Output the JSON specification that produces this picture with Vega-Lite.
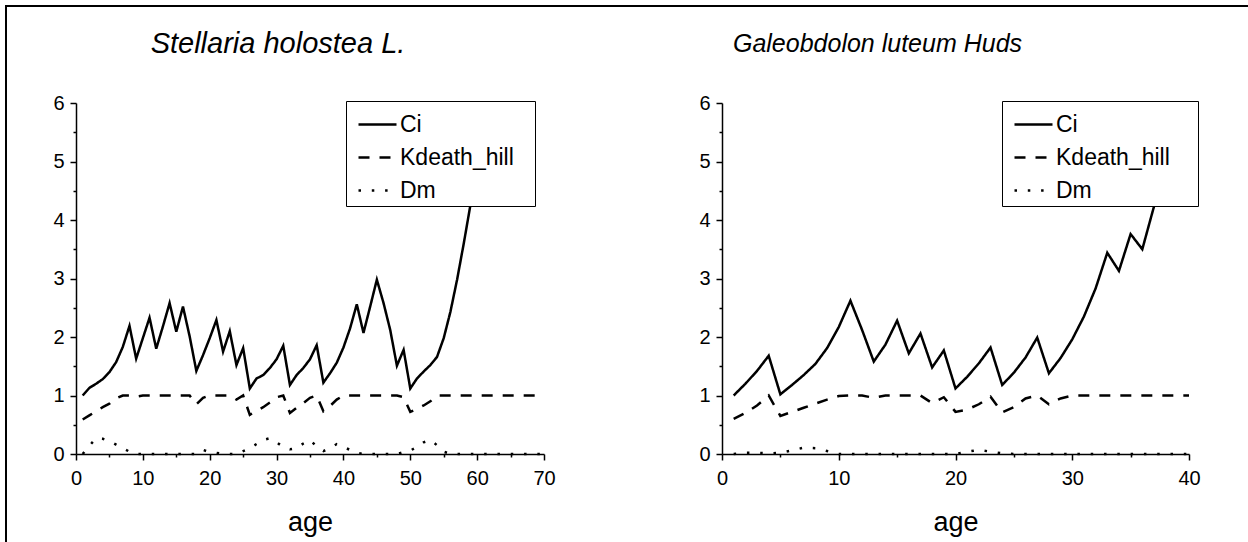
{
"$schema": "https://vega.github.io/schema/vega-lite/v6.json",
"width": 1245, "height": 539,
"autosize": "none",
"padding": {"left": 6, "top": 6, "right": -3, "bottom": -3},
"background": "white",
"config": {
  "view": {"stroke": "#000", "strokeWidth": 2, "fill": "white"},
  "font": "Liberation Sans",
  "axis": {"domainColor": "#000", "domainWidth": 1.5, "tickColor": "#000", "tickWidth": 1.5, "labelColor": "#000", "labelFontSize": 20, "labelFont": "Liberation Sans", "titleFont": "Liberation Sans", "titleColor": "#000", "titleFontWeight": "normal", "grid": false, "labelOverlap": false, "labelFlush": false},
  "legend": {"orient": "none", "strokeColor": "#000", "fillColor": "#fff", "padding": 3, "symbolType": "stroke", "symbolSize": 1444, "symbolStrokeWidth": 2.5, "symbolStrokeColor": "#000", "symbolOffset": 8, "labelFontSize": 23, "labelFont": "Liberation Sans", "labelColor": "#000", "labelOffset": 2, "rowPadding": -9, "titleOrient": "right", "titleFontSize": 1, "titleColor": "#fff", "titleOpacity": 0}
},
"datasets": {
"left": [
{"age":1,"series":"Ci","value":1.0},{"age":2,"series":"Ci","value":1.13},{"age":3,"series":"Ci","value":1.2},{"age":4,"series":"Ci","value":1.28},{"age":5,"series":"Ci","value":1.4},{"age":6,"series":"Ci","value":1.57},{"age":7,"series":"Ci","value":1.83},{"age":8,"series":"Ci","value":2.19},{"age":9,"series":"Ci","value":1.63},{"age":10,"series":"Ci","value":1.98},
{"age":11,"series":"Ci","value":2.33},{"age":12,"series":"Ci","value":1.8},{"age":13,"series":"Ci","value":2.18},{"age":14,"series":"Ci","value":2.58},{"age":15,"series":"Ci","value":2.09},{"age":16,"series":"Ci","value":2.52},{"age":17,"series":"Ci","value":2.01},{"age":18,"series":"Ci","value":1.42},{"age":19,"series":"Ci","value":1.69},{"age":20,"series":"Ci","value":1.98},
{"age":21,"series":"Ci","value":2.29},{"age":22,"series":"Ci","value":1.75},{"age":23,"series":"Ci","value":2.1},{"age":24,"series":"Ci","value":1.52},{"age":25,"series":"Ci","value":1.81},{"age":26,"series":"Ci","value":1.12},{"age":27,"series":"Ci","value":1.29},{"age":28,"series":"Ci","value":1.35},{"age":29,"series":"Ci","value":1.47},{"age":30,"series":"Ci","value":1.62},
{"age":31,"series":"Ci","value":1.85},{"age":32,"series":"Ci","value":1.18},{"age":33,"series":"Ci","value":1.35},{"age":34,"series":"Ci","value":1.47},{"age":35,"series":"Ci","value":1.62},{"age":36,"series":"Ci","value":1.86},{"age":37,"series":"Ci","value":1.22},{"age":38,"series":"Ci","value":1.38},{"age":39,"series":"Ci","value":1.56},{"age":40,"series":"Ci","value":1.82},
{"age":41,"series":"Ci","value":2.15},{"age":42,"series":"Ci","value":2.56},{"age":43,"series":"Ci","value":2.07},{"age":44,"series":"Ci","value":2.52},{"age":45,"series":"Ci","value":2.98},{"age":46,"series":"Ci","value":2.58},{"age":47,"series":"Ci","value":2.12},{"age":48,"series":"Ci","value":1.51},{"age":49,"series":"Ci","value":1.78},{"age":50,"series":"Ci","value":1.12},
{"age":51,"series":"Ci","value":1.29},{"age":52,"series":"Ci","value":1.41},{"age":53,"series":"Ci","value":1.52},{"age":54,"series":"Ci","value":1.66},{"age":55,"series":"Ci","value":1.98},{"age":56,"series":"Ci","value":2.43},{"age":57,"series":"Ci","value":2.98},{"age":58,"series":"Ci","value":3.6},{"age":59,"series":"Ci","value":4.26},{"age":60,"series":"Ci","value":5.0},{"age":61,"series":"Ci","value":5.9},
{"age":1,"series":"Kdeath_hill","value":0.59},{"age":2,"series":"Kdeath_hill","value":0.66},{"age":3,"series":"Kdeath_hill","value":0.73},{"age":4,"series":"Kdeath_hill","value":0.8},{"age":5,"series":"Kdeath_hill","value":0.86},{"age":6,"series":"Kdeath_hill","value":0.95},{"age":7,"series":"Kdeath_hill","value":1.0},{"age":8,"series":"Kdeath_hill","value":1.0},{"age":9,"series":"Kdeath_hill","value":0.98},{"age":10,"series":"Kdeath_hill","value":1.0},
{"age":11,"series":"Kdeath_hill","value":1.0},{"age":12,"series":"Kdeath_hill","value":1.0},{"age":13,"series":"Kdeath_hill","value":1.0},{"age":14,"series":"Kdeath_hill","value":1.0},{"age":15,"series":"Kdeath_hill","value":1.0},{"age":16,"series":"Kdeath_hill","value":1.0},{"age":17,"series":"Kdeath_hill","value":1.0},{"age":18,"series":"Kdeath_hill","value":0.85},{"age":19,"series":"Kdeath_hill","value":0.96},{"age":20,"series":"Kdeath_hill","value":1.0},
{"age":21,"series":"Kdeath_hill","value":1.0},{"age":22,"series":"Kdeath_hill","value":1.0},{"age":23,"series":"Kdeath_hill","value":1.0},{"age":24,"series":"Kdeath_hill","value":0.93},{"age":25,"series":"Kdeath_hill","value":1.0},{"age":26,"series":"Kdeath_hill","value":0.67},{"age":27,"series":"Kdeath_hill","value":0.74},{"age":28,"series":"Kdeath_hill","value":0.8},{"age":29,"series":"Kdeath_hill","value":0.88},{"age":30,"series":"Kdeath_hill","value":0.97},
{"age":31,"series":"Kdeath_hill","value":1.0},{"age":32,"series":"Kdeath_hill","value":0.7},{"age":33,"series":"Kdeath_hill","value":0.79},{"age":34,"series":"Kdeath_hill","value":0.87},{"age":35,"series":"Kdeath_hill","value":0.96},{"age":36,"series":"Kdeath_hill","value":1.0},{"age":37,"series":"Kdeath_hill","value":0.73},{"age":38,"series":"Kdeath_hill","value":0.82},{"age":39,"series":"Kdeath_hill","value":0.93},{"age":40,"series":"Kdeath_hill","value":1.0},
{"age":41,"series":"Kdeath_hill","value":1.0},{"age":42,"series":"Kdeath_hill","value":1.0},{"age":43,"series":"Kdeath_hill","value":1.0},{"age":44,"series":"Kdeath_hill","value":1.0},{"age":45,"series":"Kdeath_hill","value":1.0},{"age":46,"series":"Kdeath_hill","value":1.0},{"age":47,"series":"Kdeath_hill","value":1.0},{"age":48,"series":"Kdeath_hill","value":1.0},{"age":49,"series":"Kdeath_hill","value":0.97},{"age":50,"series":"Kdeath_hill","value":0.72},
{"age":51,"series":"Kdeath_hill","value":0.77},{"age":52,"series":"Kdeath_hill","value":0.83},{"age":53,"series":"Kdeath_hill","value":0.9},{"age":54,"series":"Kdeath_hill","value":1.0},{"age":55,"series":"Kdeath_hill","value":1.0},{"age":56,"series":"Kdeath_hill","value":1.0},{"age":57,"series":"Kdeath_hill","value":1.0},{"age":58,"series":"Kdeath_hill","value":1.0},{"age":59,"series":"Kdeath_hill","value":1.0},{"age":60,"series":"Kdeath_hill","value":1.0},
{"age":61,"series":"Kdeath_hill","value":1.0},{"age":62,"series":"Kdeath_hill","value":1.0},{"age":63,"series":"Kdeath_hill","value":1.0},{"age":64,"series":"Kdeath_hill","value":1.0},{"age":65,"series":"Kdeath_hill","value":1.0},{"age":66,"series":"Kdeath_hill","value":1.0},{"age":67,"series":"Kdeath_hill","value":1.0},{"age":68,"series":"Kdeath_hill","value":1.0},{"age":69,"series":"Kdeath_hill","value":1.0},{"age":70,"series":"Kdeath_hill","value":1.0},
{"age":1,"series":"Dm","value":0.0},{"age":2,"series":"Dm","value":0.14},{"age":3,"series":"Dm","value":0.27},{"age":4,"series":"Dm","value":0.26},{"age":5,"series":"Dm","value":0.22},{"age":6,"series":"Dm","value":0.16},{"age":7,"series":"Dm","value":0.1},{"age":8,"series":"Dm","value":0.04},{"age":9,"series":"Dm","value":0.0},{"age":10,"series":"Dm","value":0.0},
{"age":11,"series":"Dm","value":0.0},{"age":12,"series":"Dm","value":0.0},{"age":13,"series":"Dm","value":0.0},{"age":14,"series":"Dm","value":0.0},{"age":15,"series":"Dm","value":0.0},{"age":16,"series":"Dm","value":0.0},{"age":17,"series":"Dm","value":0.0},{"age":18,"series":"Dm","value":0.0},{"age":19,"series":"Dm","value":0.07},{"age":20,"series":"Dm","value":0.03},
{"age":21,"series":"Dm","value":0.02},{"age":22,"series":"Dm","value":0.0},{"age":23,"series":"Dm","value":0.0},{"age":24,"series":"Dm","value":0.0},{"age":25,"series":"Dm","value":0.05},{"age":26,"series":"Dm","value":0.1},{"age":27,"series":"Dm","value":0.17},{"age":28,"series":"Dm","value":0.24},{"age":29,"series":"Dm","value":0.27},{"age":30,"series":"Dm","value":0.2},
{"age":31,"series":"Dm","value":0.12},{"age":32,"series":"Dm","value":0.08},{"age":33,"series":"Dm","value":0.1},{"age":34,"series":"Dm","value":0.18},{"age":35,"series":"Dm","value":0.24},{"age":36,"series":"Dm","value":0.13},{"age":37,"series":"Dm","value":0.05},{"age":38,"series":"Dm","value":0.1},{"age":39,"series":"Dm","value":0.17},{"age":40,"series":"Dm","value":0.12},
{"age":41,"series":"Dm","value":0.07},{"age":42,"series":"Dm","value":0.02},{"age":43,"series":"Dm","value":0.0},{"age":44,"series":"Dm","value":0.0},{"age":45,"series":"Dm","value":0.0},{"age":46,"series":"Dm","value":0.0},{"age":47,"series":"Dm","value":0.0},{"age":48,"series":"Dm","value":0.0},{"age":49,"series":"Dm","value":0.03},{"age":50,"series":"Dm","value":0.06},
{"age":51,"series":"Dm","value":0.12},{"age":52,"series":"Dm","value":0.2},{"age":53,"series":"Dm","value":0.24},{"age":54,"series":"Dm","value":0.15},{"age":55,"series":"Dm","value":0.04},{"age":56,"series":"Dm","value":0.0},{"age":57,"series":"Dm","value":0.0},{"age":58,"series":"Dm","value":0.0},{"age":59,"series":"Dm","value":0.0},{"age":60,"series":"Dm","value":0.0},
{"age":61,"series":"Dm","value":0.0},{"age":62,"series":"Dm","value":0.0},{"age":63,"series":"Dm","value":0.0},{"age":64,"series":"Dm","value":0.0},{"age":65,"series":"Dm","value":0.0},{"age":66,"series":"Dm","value":0.0},{"age":67,"series":"Dm","value":0.0},{"age":68,"series":"Dm","value":0.0},{"age":69,"series":"Dm","value":0.0},{"age":70,"series":"Dm","value":0.0}
],
"right": [
{"age":1,"series":"Ci","value":1.0},{"age":2,"series":"Ci","value":1.2},{"age":3,"series":"Ci","value":1.42},{"age":4,"series":"Ci","value":1.68},{"age":5,"series":"Ci","value":1.02},{"age":6,"series":"Ci","value":1.18},{"age":7,"series":"Ci","value":1.35},{"age":8,"series":"Ci","value":1.54},{"age":9,"series":"Ci","value":1.81},{"age":10,"series":"Ci","value":2.17},
{"age":11,"series":"Ci","value":2.62},{"age":12,"series":"Ci","value":2.12},{"age":13,"series":"Ci","value":1.58},{"age":14,"series":"Ci","value":1.87},{"age":15,"series":"Ci","value":2.28},{"age":16,"series":"Ci","value":1.72},{"age":17,"series":"Ci","value":2.06},{"age":18,"series":"Ci","value":1.48},{"age":19,"series":"Ci","value":1.77},{"age":20,"series":"Ci","value":1.12},
{"age":21,"series":"Ci","value":1.32},{"age":22,"series":"Ci","value":1.55},{"age":23,"series":"Ci","value":1.82},{"age":24,"series":"Ci","value":1.18},{"age":25,"series":"Ci","value":1.39},{"age":26,"series":"Ci","value":1.65},{"age":27,"series":"Ci","value":1.99},{"age":28,"series":"Ci","value":1.38},{"age":29,"series":"Ci","value":1.64},{"age":30,"series":"Ci","value":1.96},
{"age":31,"series":"Ci","value":2.35},{"age":32,"series":"Ci","value":2.83},{"age":33,"series":"Ci","value":3.44},{"age":34,"series":"Ci","value":3.13},{"age":35,"series":"Ci","value":3.76},{"age":36,"series":"Ci","value":3.5},{"age":37,"series":"Ci","value":4.23},{"age":38,"series":"Ci","value":5.0},{"age":39,"series":"Ci","value":5.9},
{"age":1,"series":"Kdeath_hill","value":0.6},{"age":2,"series":"Kdeath_hill","value":0.7},{"age":3,"series":"Kdeath_hill","value":0.83},{"age":4,"series":"Kdeath_hill","value":1.0},{"age":5,"series":"Kdeath_hill","value":0.65},{"age":6,"series":"Kdeath_hill","value":0.72},{"age":7,"series":"Kdeath_hill","value":0.79},{"age":8,"series":"Kdeath_hill","value":0.86},{"age":9,"series":"Kdeath_hill","value":0.93},{"age":10,"series":"Kdeath_hill","value":0.99},
{"age":11,"series":"Kdeath_hill","value":1.0},{"age":12,"series":"Kdeath_hill","value":1.0},{"age":13,"series":"Kdeath_hill","value":0.96},{"age":14,"series":"Kdeath_hill","value":1.0},{"age":15,"series":"Kdeath_hill","value":1.0},{"age":16,"series":"Kdeath_hill","value":1.0},{"age":17,"series":"Kdeath_hill","value":1.0},{"age":18,"series":"Kdeath_hill","value":0.87},{"age":19,"series":"Kdeath_hill","value":0.97},{"age":20,"series":"Kdeath_hill","value":0.72},
{"age":21,"series":"Kdeath_hill","value":0.76},{"age":22,"series":"Kdeath_hill","value":0.85},{"age":23,"series":"Kdeath_hill","value":0.98},{"age":24,"series":"Kdeath_hill","value":0.71},{"age":25,"series":"Kdeath_hill","value":0.8},{"age":26,"series":"Kdeath_hill","value":0.95},{"age":27,"series":"Kdeath_hill","value":1.0},{"age":28,"series":"Kdeath_hill","value":0.85},{"age":29,"series":"Kdeath_hill","value":0.95},{"age":30,"series":"Kdeath_hill","value":1.0},
{"age":31,"series":"Kdeath_hill","value":1.0},{"age":32,"series":"Kdeath_hill","value":1.0},{"age":33,"series":"Kdeath_hill","value":1.0},{"age":34,"series":"Kdeath_hill","value":1.0},{"age":35,"series":"Kdeath_hill","value":1.0},{"age":36,"series":"Kdeath_hill","value":1.0},{"age":37,"series":"Kdeath_hill","value":1.0},{"age":38,"series":"Kdeath_hill","value":1.0},{"age":39,"series":"Kdeath_hill","value":1.0},{"age":40,"series":"Kdeath_hill","value":1.0},
{"age":1,"series":"Dm","value":0.0},{"age":2,"series":"Dm","value":0.02},{"age":3,"series":"Dm","value":0.02},{"age":4,"series":"Dm","value":0.01},{"age":5,"series":"Dm","value":0.02},{"age":6,"series":"Dm","value":0.06},{"age":7,"series":"Dm","value":0.11},{"age":8,"series":"Dm","value":0.1},{"age":9,"series":"Dm","value":0.05},{"age":10,"series":"Dm","value":0.0},
{"age":11,"series":"Dm","value":0.0},{"age":12,"series":"Dm","value":0.0},{"age":13,"series":"Dm","value":0.0},{"age":14,"series":"Dm","value":0.0},{"age":15,"series":"Dm","value":0.0},{"age":16,"series":"Dm","value":0.0},{"age":17,"series":"Dm","value":0.0},{"age":18,"series":"Dm","value":0.0},{"age":19,"series":"Dm","value":0.0},{"age":20,"series":"Dm","value":0.0},
{"age":21,"series":"Dm","value":0.04},{"age":22,"series":"Dm","value":0.07},{"age":23,"series":"Dm","value":0.04},{"age":24,"series":"Dm","value":0.01},{"age":25,"series":"Dm","value":0.0},{"age":26,"series":"Dm","value":0.0},{"age":27,"series":"Dm","value":0.0},{"age":28,"series":"Dm","value":0.0},{"age":29,"series":"Dm","value":0.0},{"age":30,"series":"Dm","value":0.0},
{"age":31,"series":"Dm","value":0.0},{"age":32,"series":"Dm","value":0.0},{"age":33,"series":"Dm","value":0.0},{"age":34,"series":"Dm","value":0.0},{"age":35,"series":"Dm","value":0.0},{"age":36,"series":"Dm","value":0.0},{"age":37,"series":"Dm","value":0.0},{"age":38,"series":"Dm","value":0.0},{"age":39,"series":"Dm","value":0.0},{"age":40,"series":"Dm","value":0.0}
]
},
"layer": [
{
  "data": {"name": "left"},
  "mark": {"type": "line", "color": "#000", "strokeWidth": 2.5, "clip": true},
  "encoding": {
    "x": {"field": "age", "type": "quantitative",
      "scale": {"domain": [0, 70], "range": [70, 538], "nice": false, "zero": false},
      "axis": {"orient": "bottom", "offset": -91, "values": [0,5,10,15,20,25,30,35,40,45,50,55,60,65,70],
        "labelExpr": "datum.value % 10 === 0 ? format(datum.value, 'd') : ''",
        "tickSize": {"condition": {"test": "datum.value % 10 === 0", "value": 6}, "value": 3},
        "labelPadding": 8, "title": "age", "titleFontSize": 27, "titlePadding": 21}},
    "y": {"field": "value", "type": "quantitative",
      "scale": {"domain": [0, 6], "range": [448, 97], "nice": false, "zero": false},
      "axis": {"orient": "left", "offset": -70, "values": [0,0.5,1,1.5,2,2.5,3,3.5,4,4.5,5,5.5,6],
        "labelExpr": "datum.value % 1 === 0 ? format(datum.value, 'd') : ''",
        "tickSize": {"condition": {"test": "datum.value % 1 === 0", "value": 6}, "value": 3},
        "labelPadding": 6,
        "title": "Stellaria holostea L.", "titleAngle": 0, "titleX": 201.5, "titleY": 46,
        "titleAlign": "center", "titleBaseline": "alphabetic", "titleFontSize": 29, "titleFontStyle": "italic"}},
    "strokeDash": {"field": "series", "type": "nominal",
      "scale": {"domain": ["Ci", "Kdeath_hill", "Dm"], "range": [[1, 0], [11, 10], [2.5, 10.8]]},
      "legend": {"legendX": 340, "legendY": 95, "title": ".", "titlePadding": 17}}
  }
},
{
  "data": {"name": "right"},
  "mark": {"type": "line", "color": "#000", "strokeWidth": 2.5, "clip": true},
  "encoding": {
    "x": {"field": "age", "type": "quantitative",
      "scale": {"domain": [0, 40], "range": [716, 1183], "nice": false, "zero": false},
      "axis": {"orient": "bottom", "offset": -91, "values": [0,5,10,15,20,25,30,35,40],
        "labelExpr": "datum.value % 10 === 0 ? format(datum.value, 'd') : ''",
        "tickSize": {"condition": {"test": "datum.value % 10 === 0", "value": 6}, "value": 3},
        "labelPadding": 8, "title": "age", "titleFontSize": 27, "titlePadding": 21}},
    "y": {"field": "value", "type": "quantitative",
      "scale": {"domain": [0, 6], "range": [448, 97], "nice": false, "zero": false},
      "axis": {"orient": "left", "offset": -716, "values": [0,0.5,1,1.5,2,2.5,3,3.5,4,4.5,5,5.5,6],
        "labelExpr": "datum.value % 1 === 0 ? format(datum.value, 'd') : ''",
        "tickSize": {"condition": {"test": "datum.value % 1 === 0", "value": 6}, "value": 3},
        "labelPadding": 6,
        "title": "Galeobdolon luteum Huds", "titleAngle": 0, "titleX": 155, "titleY": 45,
        "titleAlign": "center", "titleBaseline": "alphabetic", "titleFontSize": 25, "titleFontStyle": "italic"}},
    "strokeDash": {"field": "series", "type": "nominal",
      "scale": {"domain": ["Ci", "Kdeath_hill", "Dm"], "range": [[1, 0], [11, 10], [2.5, 10.8]]},
      "legend": {"legendX": 996, "legendY": 95, "title": ".", "titlePadding": 24}}
  }
}
],
"resolve": {"scale": {"x": "independent", "y": "independent", "strokeDash": "independent"}, "axis": {"x": "independent", "y": "independent"}, "legend": {"strokeDash": "independent"}}
}
